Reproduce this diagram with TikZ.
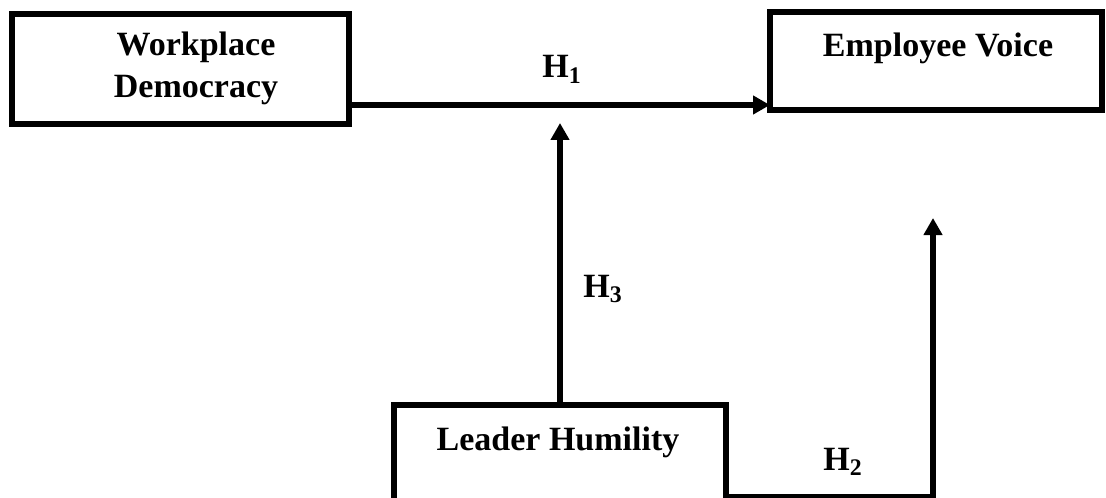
\documentclass[tikz,border=0pt]{standalone}
\usepackage{fontspec}
\setmainfont{Liberation Serif}
\usepackage{tikz}
\usetikzlibrary{positioning,arrows.meta}

\tikzset{
  box/.style={draw, line width=3pt, rectangle, inner sep=0pt, outer sep=0pt},
  lbl/.style={font=\fontsize{17}{21}\selectfont\bfseries, inner sep=0pt, align=center},
  arr/.style={line width=2.7pt, -{Triangle[length=8.5pt,width=9pt]}}
}

\begin{document}
\begin{tikzpicture}[x=0.5pt, y=-0.5pt]
    \useasboundingbox (0,0) rectangle (1106,497);
    % boxes
    \node[box, minimum width=168.5pt, minimum height=55pt] (wd) at (180.5,69) {};
    \node[box, minimum width=166pt, minimum height=49pt] (ev) at (936,61) {};
    \node[box, minimum width=166pt, minimum height=49pt] (lh) at (560,454) {};
    % box texts
    \node[lbl] (wdtxt) at (196,68) {Workplace\\Democracy};
    \node[lbl, anchor=base] (evtxt) at (938,57) {Employee Voice};
    \node[lbl, anchor=base] (lhtxt) at (558,450) {Leader Humility};
    % free ends
    \coordinate (h1y) at (0,105);
    \coordinate (h2y) at (0,497);
    \coordinate (h3end) at (560,123);
    \coordinate (h2end) at (933,218);
    % arrows
    \draw[arr] (wd.east |- h1y) -- (ev.west |- h1y);
    \draw[arr] (lh.north) -- (h3end);
    \draw[arr] (lh.east |- h2y) -| (h2end);
    % hypotheses
    \node[lbl, anchor=base west] (h1) at (542,78) {H\textsubscript{1}};
    \node[lbl, anchor=base west] (h3) at (583,297) {H\textsubscript{3}};
    \node[lbl, anchor=base west] (h2) at (823,470) {H\textsubscript{2}};
\end{tikzpicture}
\end{document}
